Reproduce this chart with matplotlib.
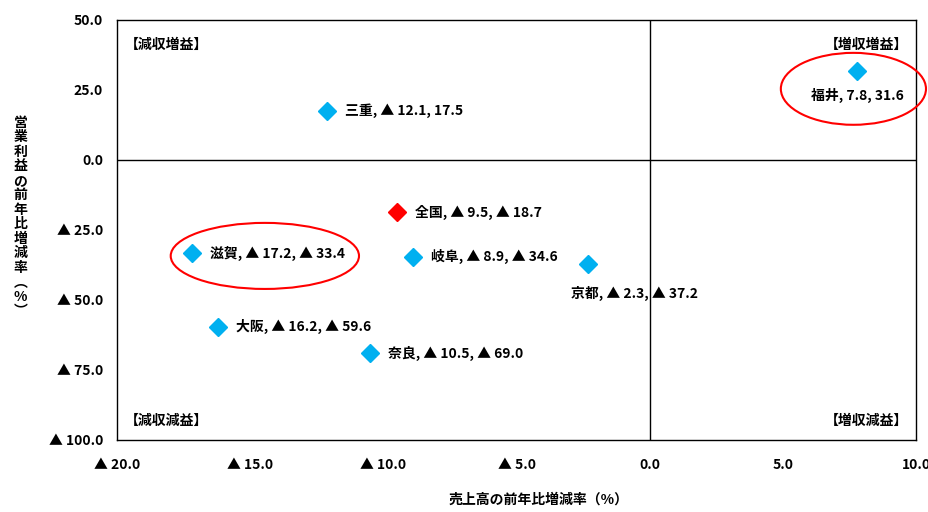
import numpy as np
import matplotlib
matplotlib.use("Agg")
import matplotlib.pyplot as plt
from matplotlib.patches import Ellipse

plt.rcParams['font.family'] = ['Noto Sans CJK JP', 'DejaVu Sans']
plt.rcParams['font.weight'] = 'bold'

#%% data: sales growth (x) and operating profit growth (y), %
names = ['全国', '三重', '福井', '滋賀', '岐阜', '京都', '大阪', '奈良']
sales = [-9.5, -12.1, 7.8, -17.2, -8.9, -2.3, -16.2, -10.5]
profit = [-18.7, 17.5, 31.6, -33.4, -34.6, -37.2, -59.6, -69.0]
colors = ['#FF0000', '#00B0F0', '#00B0F0', '#00B0F0', '#00B0F0', '#00B0F0', '#00B0F0', '#00B0F0']

xticks = [-20, -15, -10, -5, 0, 5, 10]
yticks = [-100, -75, -50, -25, 0, 25, 50]

FS = 10

def fmt(v):
    # negatives are written with a triangle instead of a minus sign
    if v < 0:
        return '▲ %.1f' % abs(v)
    return '%.1f' % v

fig = plt.figure(figsize=(9.29, 5.12), dpi=100)
ax = fig.add_axes([0.126, 0.141, 0.86, 0.82])

ax.set_xlim(-20, 10)
ax.set_ylim(-100, 50)
ax.axvline(0, color='black', lw=1.0, zorder=1)
ax.axhline(0, color='black', lw=1.0, zorder=1)

for n, x, y, c in zip(names, sales, profit, colors):
    ax.plot(x, y, marker='D', ms=9.5, color=c, mec=c, ls='none', zorder=3)
    lab = '%s, %s, %s' % (n, fmt(x), fmt(y))
    if n == '福井':
        ax.annotate(lab, (x, y), xytext=(0, -17), textcoords='offset points',
                    ha='center', va='center', fontsize=FS, fontweight='bold')
    elif n == '京都':
        ax.annotate(lab, (x, y), xytext=(33, -21), textcoords='offset points',
                    ha='center', va='center', fontsize=FS, fontweight='bold')
    else:
        ax.annotate(lab, (x, y), xytext=(13, 0), textcoords='offset points',
                    ha='left', va='center', fontsize=FS, fontweight='bold')

# circled prefectures
ax.add_patch(Ellipse((-14.45, -34.3), 7.07, 23.6, fill=False, ec='#FF0000', lw=1.5,
                     zorder=4, clip_on=False))
ax.add_patch(Ellipse((7.65, 25.4), 5.45, 25.7, fill=False, ec='#FF0000', lw=1.5,
                     zorder=4, clip_on=False))

# quadrant captions
ax.text(0.01, 0.94, '【減収増益】', transform=ax.transAxes, ha='left', va='center', fontsize=FS)
ax.text(0.99, 0.94, '【増収増益】', transform=ax.transAxes, ha='right', va='center', fontsize=FS)
ax.text(0.01, 0.045, '【減収減益】', transform=ax.transAxes, ha='left', va='center', fontsize=FS)
ax.text(0.99, 0.045, '【増収減益】', transform=ax.transAxes, ha='right', va='center', fontsize=FS)

ax.set_xticks(xticks)
ax.set_xticklabels([fmt(v) for v in xticks], fontsize=FS, fontweight='bold')
ax.set_yticks(yticks)
ax.set_yticklabels([fmt(v) for v in yticks], fontsize=FS, fontweight='bold')
ax.tick_params(axis='x', length=0, pad=13)
ax.tick_params(axis='y', length=0, pad=10)

for s in ax.spines.values():
    s.set_color('black')
    s.set_linewidth(1.0)

# vertical (stacked) y label
ylab = '営業利益の前年比増減率︵%︶'
fig.text(0.022, 0.576, '\n'.join(ylab), ha='center', va='center', fontsize=FS,
         fontweight='bold', linespacing=1.05)
fig.text(0.58, 0.025, '売上高の前年比増減率（%）', ha='center', va='center',
         fontsize=FS, fontweight='bold')

fig.savefig('out.png', dpi=100)
